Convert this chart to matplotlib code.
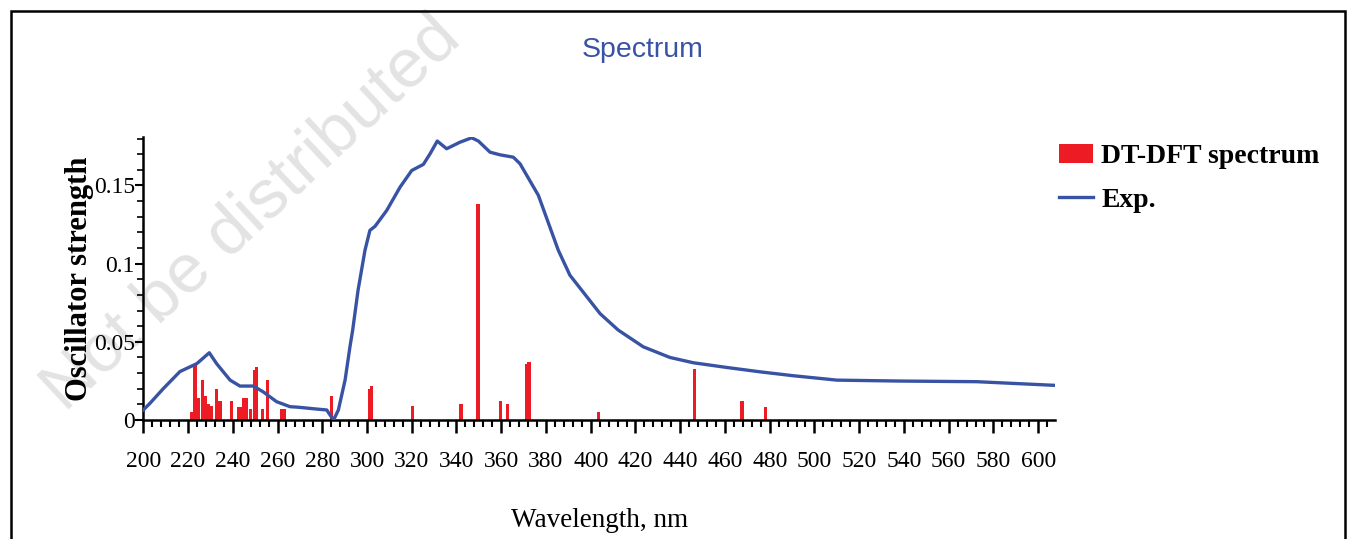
import numpy as np
import matplotlib
matplotlib.use('Agg')
import matplotlib.pyplot as plt
from matplotlib.patches import Rectangle
from matplotlib.ticker import MultipleLocator

# calculated transitions (nm, oscillator strength)
calc_wl = [221.5, 223.1, 224.8, 226.6, 227.7, 229.2, 230.4, 232.8, 234.3, 239.5,
           242.6, 244.0, 244.7, 245.9, 248.0, 249.6, 250.8, 253.2, 255.6, 261.6,
           263.3, 284.2, 301.0, 301.9, 320.4, 342.0, 349.6, 359.6, 362.7, 371.4,
           372.4, 403.4, 446.2, 467.6, 478.2]
calc_f = [0.0053, 0.035, 0.0139, 0.0255, 0.0153, 0.0102, 0.0089, 0.020, 0.012, 0.012,
          0.0085, 0.0085, 0.0139, 0.0139, 0.007, 0.032, 0.0337, 0.007, 0.0255, 0.007,
          0.007, 0.0153, 0.020, 0.022, 0.0089, 0.0102, 0.138, 0.0121, 0.0102, 0.0355,
          0.037, 0.0053, 0.0324, 0.0121, 0.0083]

# experimental curve
exp_wl = [200, 203.0, 208.9, 216.4, 223.9, 229.5, 232.8, 238.8, 243.2, 249.2,
          253.6, 259.6, 265.6, 269.0, 276.0, 282.0, 284.2, 285.2, 287.2, 290.2,
          292.4, 293.6, 296.0, 299.1, 301.3, 303.6, 308.8, 314.8, 320.0, 325.2,
          328.2, 331.4, 335.6, 341.6, 346.8, 349.8, 355.0, 359.5, 365.4, 368.4,
          376.6, 385.5, 390.7, 404.2, 412.3, 423.5, 435.4, 445.9, 460.8, 475.7,
          490.6, 510.0, 538.3, 572.5, 606.8]
exp_f = [0.0064, 0.0107, 0.020, 0.031, 0.036, 0.043, 0.036, 0.0255, 0.0217, 0.0217,
         0.018, 0.0117, 0.0085, 0.0082, 0.0072, 0.0064, 0.0017, 0.0004, 0.0064, 0.0255,
         0.047, 0.0575, 0.083, 0.1086, 0.1213, 0.1239, 0.134, 0.149, 0.1596, 0.1635,
         0.1703, 0.1784, 0.1735, 0.1777, 0.1805, 0.1784, 0.1713, 0.1696, 0.1681, 0.1639,
         0.1437, 0.1086, 0.0926, 0.068, 0.0575, 0.0468, 0.040, 0.0366, 0.0336, 0.0308,
         0.0283, 0.0255, 0.0249, 0.0245, 0.0222]

xticks = list(range(200, 601, 20))
yticks = [0, 0.05, 0.1, 0.15]
ylabels = ['0', '0.05', '0.1', '0.15']

red = '#ed1c24'
blue = '#3953a4'
serif = 'Liberation Serif'

fig = plt.figure(figsize=(13.53, 5.39), dpi=100)
ax = fig.add_axes([0.1059, 0.2208, 0.6738, 0.525])
ax.patch.set_alpha(0)

bars = ax.bar(calc_wl, calc_f, width=1.4, color=red, label='DT-DFT spectrum', zorder=2)
line, = ax.plot(exp_wl, exp_f, color=blue, lw=2.4, label='Exp.', zorder=3,
                solid_joinstyle='round')

ax.set_xlim(200, 607.5)
ax.set_ylim(0, 0.181)
ax.spines['top'].set_visible(False)
ax.spines['right'].set_visible(False)
for s in ['left', 'bottom']:
    ax.spines[s].set_linewidth(1.8)

ax.set_xticks(xticks)
ax.set_xticklabels([str(t) for t in xticks], family=serif, fontsize=17)
ax.xaxis.set_minor_locator(MultipleLocator(4))
ax.set_yticks(yticks)
ax.set_yticklabels(ylabels, family=serif, fontsize=17)
ax.yaxis.set_minor_locator(MultipleLocator(0.01))
ax.tick_params(axis='x', which='major', direction='out', length=9, width=1.8, pad=13)
ax.tick_params(axis='x', which='minor', direction='out', length=5, width=1.5)
ax.tick_params(axis='y', which='major', direction='out', length=6, width=1.5, pad=0)
ax.tick_params(axis='y', which='minor', direction='out', length=4, width=1.2)

ax.set_xlabel('Wavelength, nm', family=serif, fontsize=19.5, labelpad=26)
ax.set_ylabel('Oscillator strength', family=serif, fontsize=22,
              fontweight='bold', labelpad=0)

fig.text(0.475, 0.907, 'Spectrum', family='Liberation Sans', fontsize=20.5,
         color=blue, ha='center', va='center')

ax.legend([bars, line], ['DT-DFT spectrum', 'Exp.'], loc='upper left',
          bbox_to_anchor=(0.977, 1.065), frameon=False,
          prop={'family': serif, 'weight': 'bold', 'size': 20},
          handlelength=1.22, handletextpad=0.3, labelspacing=0.67)

# watermark
fig.text(0.048, 0.235, 'Not be distributed', fontsize=50, color='#e3e3e3',
         rotation=43, rotation_mode='anchor', family='Liberation Sans',
         ha='left', va='baseline', zorder=-1)

# outer frame
fig.patches.append(Rectangle((0.0081, -0.1), 0.986, 1.0796, transform=fig.transFigure,
                             fill=False, ec='black', lw=1.8))

fig.savefig('out.png', dpi=100)
